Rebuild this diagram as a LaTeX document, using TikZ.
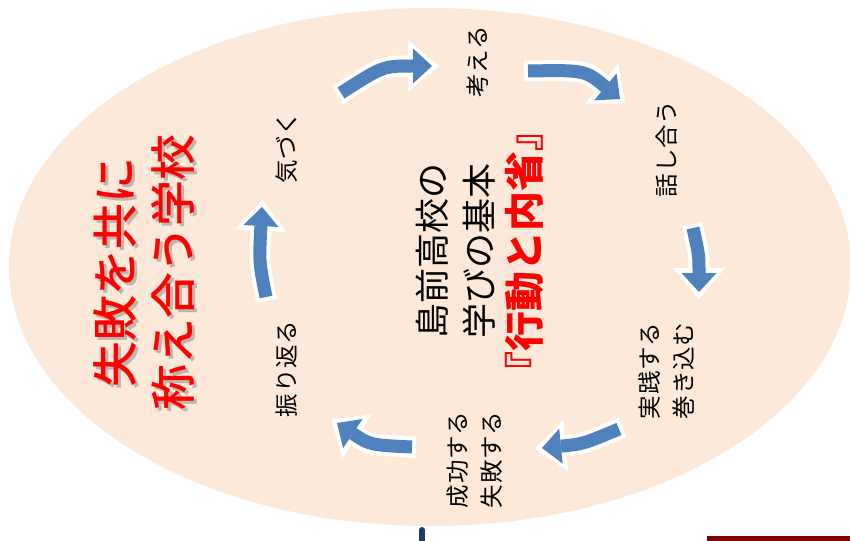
\documentclass[tikz,border=0pt]{standalone}
\usepackage{fontspec}
\newfontfamily\jp{Noto Sans CJK JP}
\IfFontExistsTF{Noto Sans CJK JP Medium}
  {\newfontfamily\jpm{Noto Sans CJK JP Medium}}
  {\newfontfamily\jpm{Noto Sans CJK JP}[FakeBold=1.5]}
\newfontfamily\jpl{Noto Sans CJK JP}[LetterSpace=3]
\usetikzlibrary{arrows.meta}
\definecolor{peach}{HTML}{FDE9D9}
\definecolor{ablue}{HTML}{4F81BD}
\definecolor{navyblue}{HTML}{1F3864}
\definecolor{darkred}{HTML}{7F0000}
\tikzset{
  lbl/.style={font=\jpl\fontsize{23.5}{34}\selectfont, rotate=90, align=center, inner sep=0pt},
  wline/.style={draw=white, line width=21pt, shorten <=-4pt, shorten >=-7pt,
    -{Triangle[width=52pt,length=31pt,line width=0pt]}},
  bline/.style={draw=ablue, line width=13pt,
    -{Triangle[width=35pt,length=19pt,line width=0pt]}},
}
\newcommand\cycarrow[3]{%
  \draw[wline] (#1) .. controls (#2) .. (#3);
  \draw[bline] (#1) .. controls (#2) .. (#3);}
\begin{document}
\begin{tikzpicture}[x=1pt,y=-1pt]
\useasboundingbox (0,0) rectangle (850,540);
\clip (0,0) rectangle (850,540);
\fill[white] (0,0) rectangle (850,540);
\fill[peach] (430,267) ellipse [x radius=421pt, y radius=259pt];
% bottom decorations
\draw[navyblue, line width=6pt, line cap=round] (422,530) -- (422,548);
\fill[darkred] (707,536) rectangle (850,541);
% arrows
\coordinate (a1s) at (341,93);  \coordinate (a1c) at (383,66);  \coordinate (a1e) at (432,66);
\coordinate (a2s) at (528,71);  \coordinate (a2c) at (585,70);  \coordinate (a2e) at (620,99);
\coordinate (a3s) at (693,228); \coordinate (a3c) at (699,255); \coordinate (a3e) at (699,292);
\coordinate (a4s) at (619,429); \coordinate (a4c) at (583,444); \coordinate (a4e) at (542,448);
\coordinate (a5s) at (412,447); \coordinate (a5c) at (370,445); \coordinate (a5e) at (337,423);
\coordinate (a6s) at (266,297); \coordinate (a6c) at (259,262); \coordinate (a6e) at (262,207);
\cycarrow{a1s}{a1c}{a1e}
\cycarrow{a2s}{a2c}{a2e}
\cycarrow{a3s}{a3c}{a3e}
\cycarrow{a4s}{a4c}{a4e}
\cycarrow{a5s}{a5c}{a5e}
\cycarrow{a6s}{a6c}{a6e}
% labels
\node[lbl] (kizuku) at (287,148) {気づく};
\node[lbl] (kangaeru) at (478,62) {考える};
\node[lbl] (hanashiau) at (667,149) {話し合う};
\node[lbl] (jissen) at (666,371) {実践する\\巻き込む};
\node[lbl] (seikou) at (475,460) {成功する\\失敗する};
\node[lbl] (furikaeru) at (287,369) {振り返る};
% centre
\node[rotate=90, align=center, inner sep=0pt, font=\jp\fontsize{35}{47}\selectfont] (core) at (480,251)
  {島前高校の\\学びの基本\\{\color{red}\bfseries\fontsize{40}{47}\selectfont 『行動と内省』}};
% motto
\node[rotate=90, align=center, inner sep=0pt, font=\jpm\fontsize{46}{58}\selectfont, text=black!45, opacity=.55] (mottoshadow) at (147,275) {失敗を共に\\称え合う学校};
\node[rotate=90, align=center, inner sep=0pt, font=\jpm\fontsize{46}{58}\selectfont, text=red] (motto) at (144,272) {失敗を共に\\称え合う学校};
\end{tikzpicture}
\end{document}
